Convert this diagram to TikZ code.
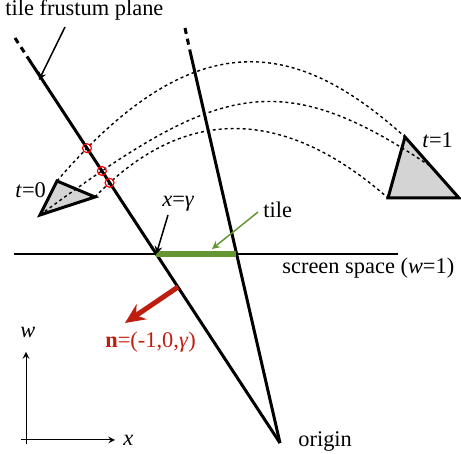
\documentclass[tikz,border=0pt]{standalone}
\usepackage{fontspec}
\setmainfont{Liberation Serif}
\usepackage{xcolor}
\usetikzlibrary{arrows.meta,intersections}
\definecolor{tilegreen}{RGB}{100,150,50}
\definecolor{normalred}{RGB}{190,30,15}

\begin{document}
\begin{tikzpicture}[x=0.5pt,y=-0.5pt,>=stealth,
  lbl/.style={font=\fontsize{11.2}{13}\selectfont,inner sep=0pt,anchor=base west},
  ray/.style={line width=1.5pt},
  raytop/.style={line width=1.5pt,dash pattern=on 3pt off 2.5pt},
  trail/.style={line width=0.7pt,dash pattern=on 1.5pt off 1.5pt},
  tri/.style={draw,line width=1.5pt,fill=black!17,line join=miter},
  hit/.style={draw=red,line width=0.6pt}]
\useasboundingbox (0,0) rectangle (461,454);
\coordinate (O) at (280,443);
\coordinate (Ltop) at (15,38);
\coordinate (Lsol) at (28,58);
\coordinate (Rtop) at (185,28);
\coordinate (Rsol) at (190,51);
\coordinate (sL) at (14,254);
\coordinate (sR) at (398,254);
\coordinate (gL) at (156.3,254);
\coordinate (gR) at (236.3,254);
\coordinate (a0) at (57,181);
\coordinate (b0) at (95,197);
\coordinate (c0) at (40,215);
\coordinate (a1) at (405,137);
\coordinate (b1) at (459,198);
\coordinate (c1) at (388,198);
\coordinate (m1) at (436,170);
\fill[tri] (a0) -- (b0) -- (c0) -- cycle;
\fill[tri] (a1) -- (b1) -- (c1) -- cycle;
\draw[trail,name path=arcA] (a0) .. controls (198,16) and (301,43) .. (a1);
\draw[trail,name path=arcB] (c0) .. controls (217,85) and (278,62) .. (m1);
\draw[trail,name path=arcC] (b0) .. controls (200,88) and (305,125) .. (c1);
\draw[ray,name path=plane] (Lsol) -- (O);
\draw[raytop] (Ltop) -- (Lsol);
\draw[ray] (Rsol) -- (O);
\draw[raytop] (Rtop) -- (Rsol);
\foreach \a in {A,B,C}
  \path[name intersections={of=plane and arc\a}] (intersection-1) coordinate (hit\a);
\foreach \a in {A,B,C}
  \draw[hit] (hit\a) circle (4.5);
\draw[line width=1pt] (sL) -- (sR);
\draw[tilegreen,line width=3pt] (gL) -- (gR);

\node[lbl] (plane) at (5,15.5) {tile frustum plane};
\coordinate (planeFrom) at (65,27);
\coordinate (planeTo) at (39,80);
\draw[->,line width=0.75pt] (planeFrom) -- (planeTo);
\node[lbl] (t0) at (15,198) {\textit{t}=0};
\node[lbl] (t1) at (422,148) {\textit{t}=1};
\node[lbl] (gam) at (162,207) {\textit{x}=\textit{γ}};
\coordinate (gamFrom) at (168,215);
\draw[->,line width=0.75pt] (gamFrom) -- (gL);
\node[lbl] (tile) at (263,218) {tile};
\coordinate (tileFrom) at (258,212);
\coordinate (tileTo) at (212,249);
\draw[->,tilegreen,line width=0.75pt] (tileFrom) -- (tileTo);
\node[lbl] (screen) at (282,274) {screen space (\textit{w}=1)};
\node[lbl] (orig) at (298,446) {origin};
\coordinate (nS) at (178,287);
\coordinate (nE) at (125,323);
\draw[-{Stealth[length=10pt,width=9pt]},normalred,line width=2.5pt] (nS) -- (nE);
\node[lbl,text=normalred] (nlab) at (105,348) {\textbf{n}=(-1,0,\textit{γ})};
\coordinate (ax0) at (26,440);
\coordinate (axL) at (21,440);
\coordinate (axR) at (115,440);
\coordinate (axB) at (26,444);
\coordinate (axT) at (26,352);
\draw[->,line width=0.5pt] (axL) -- (axR);
\draw[->,line width=0.5pt] (axB) -- (axT);
\node[lbl] (wlab) at (20,338) {\textit{w}};
\node[lbl] (xlab) at (123,445) {\textit{x}};
\end{tikzpicture}
\end{document}
